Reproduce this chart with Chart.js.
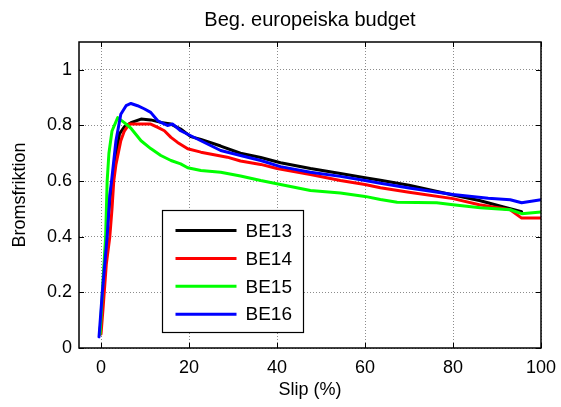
<!DOCTYPE html>
<html>
<head>
<meta charset="utf-8">
<script src="https://cdn.jsdelivr.net/npm/chart.js@4/dist/chart.umd.min.js"></script>
<style>
  html, body { margin: 0; padding: 0; background: #ffffff; }
  canvas { display: block; }
</style>
</head>
<body>
<canvas id="chart" width="561" height="407"></canvas>
<script>
// Brake friction versus slip, four measurement series
const seriesNames = ['BE13', 'BE14', 'BE15', 'BE16'];
const seriesColors = ['#000000', '#ff0000', '#00ff00', '#0000ff'];

const be13Slip = [-0.3, 0.3, 0.8, 1.5, 2.2, 3.0, 4.2, 5.3, 6.8, 9.1, 11.3, 13.6, 15.9, 18.1, 20.4, 22.7, 27.2, 31.7, 36.3, 40.8, 47.6, 54.4, 60.0, 63.5, 70.0, 80.0, 86.0, 91.5, 95.6];
const be13Friction = [0.05, 0.15, 0.30, 0.45, 0.56, 0.64, 0.77, 0.795, 0.81, 0.823, 0.82, 0.811, 0.805, 0.787, 0.76, 0.75, 0.726, 0.70, 0.685, 0.666, 0.645, 0.627, 0.612, 0.603, 0.585, 0.55, 0.53, 0.507, 0.49];

const be14Slip = [0.0, 0.5, 1.2, 2.0, 2.5, 2.9, 3.4, 4.5, 5.3, 6.4, 9.1, 11.3, 12.9, 14.4, 15.9, 17.4, 19.7, 22.7, 28.7, 31.7, 36.3, 40.0, 47.6, 54.4, 60.0, 63.5, 70.0, 80.0, 86.0, 93.0, 95.6, 100];
const be14Friction = [0.05, 0.15, 0.30, 0.40, 0.50, 0.60, 0.66, 0.745, 0.78, 0.805, 0.805, 0.805, 0.793, 0.781, 0.757, 0.739, 0.716, 0.704, 0.686, 0.672, 0.66, 0.645, 0.624, 0.602, 0.588, 0.576, 0.56, 0.537, 0.515, 0.497, 0.467, 0.467];

const be15Slip = [-0.2, 0.3, 1.05, 1.4, 1.8, 2.5, 3.8, 5.3, 6.8, 9.1, 11.3, 13.6, 15.9, 18.1, 19.7, 22.7, 27.2, 31.7, 36.3, 40.8, 47.6, 54.4, 60.0, 63.5, 67.3, 76.3, 80.0, 86.2, 93.0, 95.6, 100];
const be15Friction = [0.05, 0.20, 0.40, 0.60, 0.70, 0.78, 0.828, 0.81, 0.79, 0.745, 0.717, 0.692, 0.674, 0.662, 0.648, 0.638, 0.632, 0.618, 0.602, 0.588, 0.566, 0.557, 0.545, 0.534, 0.524, 0.522, 0.515, 0.504, 0.497, 0.483, 0.489];

const be16Slip = [-0.45, 0.3, 1.4, 2.0, 2.4, 3.4, 4.5, 5.7, 6.8, 8.3, 9.8, 11.3, 12.9, 13.6, 15.1, 16.3, 18.1, 22.7, 27.2, 31.7, 36.3, 40.8, 47.6, 54.4, 60.0, 63.5, 70.0, 80.0, 88.0, 93.0, 95.6, 100];
const be16Friction = [0.04, 0.20, 0.40, 0.55, 0.60, 0.745, 0.84, 0.871, 0.879, 0.871, 0.86, 0.847, 0.817, 0.811, 0.80, 0.805, 0.781, 0.745, 0.71, 0.692, 0.674, 0.652, 0.632, 0.617, 0.602, 0.592, 0.575, 0.552, 0.538, 0.533, 0.522, 0.533];

const xTicks = [0, 20, 40, 60, 80, 100];
const yTicks = [0, 0.2, 0.4, 0.6, 0.8, 1];

const chartTitle = 'Beg. europeiska budget';
const xTitle = 'Slip (%)';
const yTitle = 'Bromsfriktion';

const FONT = "'Liberation Sans', Arial, Helvetica, sans-serif";

const slips = [be13Slip, be14Slip, be15Slip, be16Slip];
const frictions = [be13Friction, be14Friction, be15Friction, be16Friction];

const datasets = seriesNames.map((name, i) => ({
  label: name,
  data: slips[i].map((s, k) => ({ x: s, y: frictions[i][k] })),
  borderColor: seriesColors[i],
  backgroundColor: seriesColors[i],
  borderWidth: 3,
  pointRadius: 0,
  tension: 0,
  fill: false,
  borderJoinStyle: 'round',
  borderCapStyle: 'round',
  order: seriesNames.length - i
}));

// Axes box with inward tick marks
const boxFrame = {
  id: 'boxFrame',
  afterDatasetsDraw(chart) {
    const { ctx, chartArea: a, scales } = chart;
    const len = 5;
    ctx.save();
    ctx.strokeStyle = '#000';
    ctx.lineWidth = 1;
    ctx.beginPath();
    xTicks.forEach(v => {
      const px = Math.round(scales.x.getPixelForValue(v)) + 0.5;
      ctx.moveTo(px, a.bottom); ctx.lineTo(px, a.bottom - len);
      ctx.moveTo(px, a.top); ctx.lineTo(px, a.top + len);
    });
    yTicks.forEach(v => {
      const py = Math.round(scales.y.getPixelForValue(v)) + 0.5;
      ctx.moveTo(a.left, py); ctx.lineTo(a.left + len, py);
      ctx.moveTo(a.right, py); ctx.lineTo(a.right - len, py);
    });
    ctx.stroke();
    ctx.lineWidth = 1.5;
    ctx.strokeRect(a.left, a.top, a.right - a.left, a.bottom - a.top);
    ctx.restore();
  }
};

// Legend box placed inside the axes
const innerLegend = {
  id: 'innerLegend',
  afterDraw(chart) {
    const { ctx, chartArea: a } = chart;
    const left = a.left + 83.5, top = a.top + 168.5;
    const w = 141, h = 122;
    ctx.save();
    ctx.fillStyle = '#fff';
    ctx.fillRect(left, top, w, h);
    ctx.strokeStyle = '#000';
    ctx.lineWidth = 1.2;
    ctx.strokeRect(left, top, w, h);
    ctx.font = '19px ' + FONT;
    ctx.textBaseline = 'middle';
    ctx.textAlign = 'left';
    chart.data.datasets.forEach((ds, i) => {
      const y = top + 20 + i * 27.9;
      ctx.strokeStyle = ds.borderColor;
      ctx.lineWidth = 3;
      ctx.beginPath();
      ctx.moveTo(left + 13, y);
      ctx.lineTo(left + 74, y);
      ctx.stroke();
      ctx.fillStyle = '#000';
      ctx.fillText(ds.label, left + 83, y + 1);
    });
    ctx.restore();
  }
};

new Chart(document.getElementById('chart'), {
  type: 'line',
  data: { datasets },
  options: {
    responsive: false,
    animation: false,
    devicePixelRatio: 1,
    layout: { padding: { left: 0, right: 20, top: 0, bottom: 0 } },
    plugins: {
      legend: { display: false },
      tooltip: { enabled: false },
      title: {
        display: true,
        text: chartTitle,
        fullSize: false,
        color: '#000',
        font: { family: FONT, size: 20, weight: 'normal', lineHeight: 1.2 },
        padding: { top: 8, bottom: 10 }
      }
    },
    scales: {
      x: {
        type: 'linear',
        min: -5,
        max: 100,
        afterBuildTicks: s => { s.ticks = xTicks.map(v => ({ value: v })); },
        afterFit: s => { s.height = 59; s.paddingLeft = 0; s.paddingRight = 0; },
        ticks: {
          color: '#000',
          font: { family: FONT, size: 18 },
          padding: 9,
          maxRotation: 0,
          callback: v => String(v)
        },
        grid: { color: '#8c8c8c', lineWidth: 1, drawTicks: false },
        border: { display: false, dash: [1, 2] },
        title: {
          display: true,
          text: xTitle,
          color: '#000',
          font: { family: FONT, size: 18 },
          padding: { top: 0, bottom: 6 }
        }
      },
      y: {
        type: 'linear',
        min: 0,
        max: 1.1,
        afterBuildTicks: s => { s.ticks = yTicks.map(v => ({ value: v })); },
        afterFit: s => { s.width = 79; s.paddingTop = 0; s.paddingBottom = 0; },
        ticks: {
          color: '#000',
          font: { family: FONT, size: 18 },
          padding: 7,
          callback: v => String(v)
        },
        grid: { color: '#8c8c8c', lineWidth: 1, drawTicks: false },
        border: { display: false, dash: [1, 2] },
        title: {
          display: true,
          text: yTitle,
          color: '#000',
          font: { family: FONT, size: 18 },
          padding: { top: 9, bottom: 0 }
        }
      }
    }
  },
  plugins: [boxFrame, innerLegend]
});
</script>
</body>
</html>
